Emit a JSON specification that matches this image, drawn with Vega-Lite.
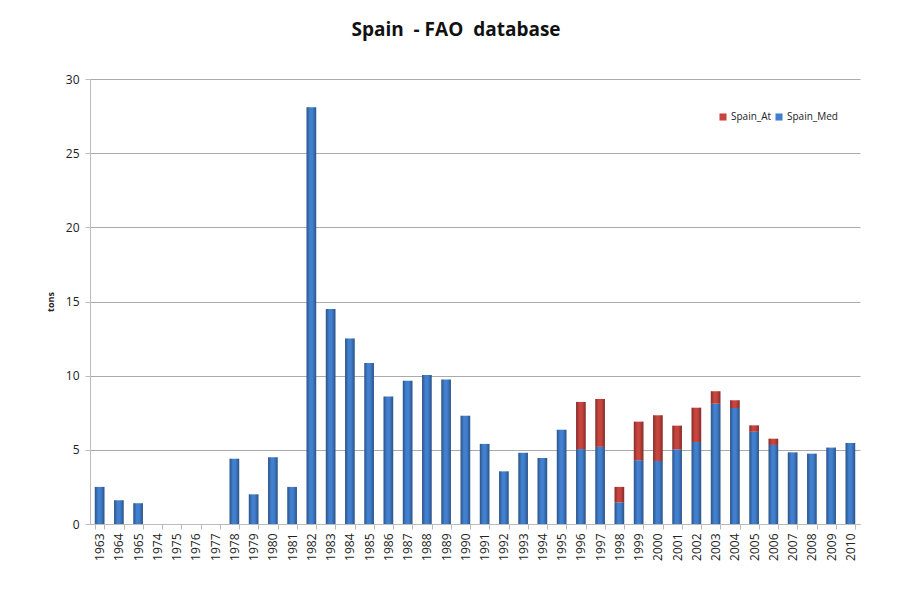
{
  "$schema": "https://vega.github.io/schema/vega-lite/v6.json",
  "width": 770,
  "height": 445,
  "autosize": {"type": "none"},
  "padding": {"left": 90, "top": 79, "right": 40, "bottom": 70},
  "background": "white",
  "title": {
    "text": "Spain\u00a0 -\u00a0FAO\u00a0 database",
    "font": "Open Sans",
    "fontSize": 19,
    "fontWeight": "bold",
    "color": "#111111",
    "anchor": "middle",
    "dx": -19,
    "offset": 33
  },
  "data": {
    "values": [
      {"year": "1963", "series": "Spain_Med", "tons": 2.5},
      {"year": "1964", "series": "Spain_Med", "tons": 1.6},
      {"year": "1965", "series": "Spain_Med", "tons": 1.4},
      {"year": "1974", "series": "Spain_Med", "tons": 0},
      {"year": "1975", "series": "Spain_Med", "tons": 0},
      {"year": "1976", "series": "Spain_Med", "tons": 0},
      {"year": "1977", "series": "Spain_Med", "tons": 0},
      {"year": "1978", "series": "Spain_Med", "tons": 4.4},
      {"year": "1979", "series": "Spain_Med", "tons": 2.0},
      {"year": "1980", "series": "Spain_Med", "tons": 4.5},
      {"year": "1981", "series": "Spain_Med", "tons": 2.5},
      {"year": "1982", "series": "Spain_Med", "tons": 28.1},
      {"year": "1983", "series": "Spain_Med", "tons": 14.5},
      {"year": "1984", "series": "Spain_Med", "tons": 12.5},
      {"year": "1985", "series": "Spain_Med", "tons": 10.85},
      {"year": "1986", "series": "Spain_Med", "tons": 8.6},
      {"year": "1987", "series": "Spain_Med", "tons": 9.65},
      {"year": "1988", "series": "Spain_Med", "tons": 10.05},
      {"year": "1989", "series": "Spain_Med", "tons": 9.75},
      {"year": "1990", "series": "Spain_Med", "tons": 7.3},
      {"year": "1991", "series": "Spain_Med", "tons": 5.4},
      {"year": "1992", "series": "Spain_Med", "tons": 3.55},
      {"year": "1993", "series": "Spain_Med", "tons": 4.8},
      {"year": "1994", "series": "Spain_Med", "tons": 4.45},
      {"year": "1995", "series": "Spain_Med", "tons": 6.35},
      {"year": "1996", "series": "Spain_Med", "tons": 5.05},
      {"year": "1997", "series": "Spain_Med", "tons": 5.2},
      {"year": "1998", "series": "Spain_Med", "tons": 1.46},
      {"year": "1999", "series": "Spain_Med", "tons": 4.3},
      {"year": "2000", "series": "Spain_Med", "tons": 4.25},
      {"year": "2001", "series": "Spain_Med", "tons": 5.03},
      {"year": "2002", "series": "Spain_Med", "tons": 5.53},
      {"year": "2003", "series": "Spain_Med", "tons": 8.11},
      {"year": "2004", "series": "Spain_Med", "tons": 7.82},
      {"year": "2005", "series": "Spain_Med", "tons": 6.22},
      {"year": "2006", "series": "Spain_Med", "tons": 5.33},
      {"year": "2007", "series": "Spain_Med", "tons": 4.83},
      {"year": "2008", "series": "Spain_Med", "tons": 4.74},
      {"year": "2009", "series": "Spain_Med", "tons": 5.15},
      {"year": "2010", "series": "Spain_Med", "tons": 5.46},
      {"year": "1996", "series": "Spain_At", "tons": 3.18},
      {"year": "1997", "series": "Spain_At", "tons": 3.23},
      {"year": "1998", "series": "Spain_At", "tons": 1.04},
      {"year": "1999", "series": "Spain_At", "tons": 2.6},
      {"year": "2000", "series": "Spain_At", "tons": 3.08},
      {"year": "2001", "series": "Spain_At", "tons": 1.6},
      {"year": "2002", "series": "Spain_At", "tons": 2.31},
      {"year": "2003", "series": "Spain_At", "tons": 0.84},
      {"year": "2004", "series": "Spain_At", "tons": 0.52},
      {"year": "2005", "series": "Spain_At", "tons": 0.43},
      {"year": "2006", "series": "Spain_At", "tons": 0.42}
    ]
  },
  "encoding": {
    "x": {
      "field": "year",
      "type": "ordinal",
      "sort": null,
      "scale": {"paddingInner": 0.5, "paddingOuter": 0.25},
      "axis": {
        "title": null,
        "labelAngle": -90,
        "labelFont": "Open Sans",
        "labelFontSize": 12,
        "labelColor": "#222222",
        "labelPadding": 4,
        "tickBand": "extent",
        "tickSize": 5,
        "tickColor": "#bbbbbb",
        "domainColor": "#bbbbbb",
        "grid": false
      }
    },
    "y": {
      "field": "tons",
      "type": "quantitative",
      "stack": "zero",
      "scale": {"domain": [0, 30], "nice": false},
      "axis": {
        "title": "tons",
        "titleFont": "Open Sans",
        "titleFontSize": 9,
        "titleFontWeight": "bold",
        "titleColor": "#222222",
        "titlePadding": 10,
        "values": [0, 5, 10, 15, 20, 25, 30],
        "labelFont": "Open Sans",
        "labelFontSize": 12,
        "labelColor": "#222222",
        "labelPadding": 6,
        "tickSize": 5,
        "tickColor": "#bbbbbb",
        "domainColor": "#bbbbbb",
        "gridColor": "#aaaaaa",
        "gridWidth": 1
      }
    },
    "order": {"field": "series", "sort": "descending"}
  },
  "layer": [
    {
      "mark": {"type": "bar", "stroke": null},
      "encoding": {
        "color": {
          "field": "series",
          "type": "nominal",
          "scale": {"domain": ["Spain_At", "Spain_Med"], "range": ["#c8453f", "#4280cf"]},
          "legend": {
            "title": null,
            "orient": "none",
            "legendX": 628,
            "legendY": 33,
            "direction": "horizontal",
            "symbolType": "square",
            "symbolSize": 50,
            "symbolStrokeWidth": 0,
            "labelFont": "Open Sans",
            "labelFontSize": 10,
            "labelColor": "#222222",
            "labelOffset": 3,
            "columnPadding": 2
          }
        }
      }
    },
    {
      "mark": {
        "type": "bar",
        "stroke": null,
        "color": {
          "gradient": "linear", "x1": 0, "y1": 0, "x2": 1, "y2": 0,
          "stops": [
            {"offset": 0, "color": "rgba(0,0,0,0.35)"},
            {"offset": 0.35, "color": "rgba(0,0,0,0)"},
            {"offset": 0.6, "color": "rgba(0,0,0,0)"},
            {"offset": 1, "color": "rgba(0,0,0,0.35)"}
          ]
        }
      },
      "encoding": {
        "detail": {"field": "series", "type": "nominal"}
      }
    }
  ],
  "config": {
    "view": {"stroke": null}
  }
}
